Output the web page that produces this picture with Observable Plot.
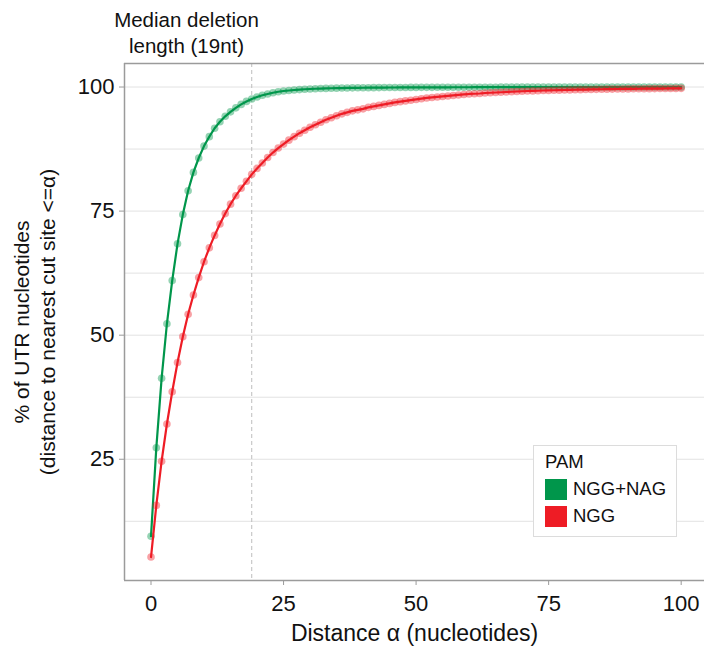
<!DOCTYPE html>
<html><head><meta charset="utf-8">
<script src="https://cdn.jsdelivr.net/npm/d3@7"></script>
<script src="https://cdn.jsdelivr.net/npm/@observablehq/plot@0.6"></script>
<style>
body{margin:0;background:#fff;font-family:"Liberation Sans",Arial,sans-serif;}
#wrap{position:relative;width:704px;height:648px;overflow:hidden;}
#legend{position:absolute;left:533px;top:445px;width:144px;height:92px;background:#fff;border:1px solid #dcdcdc;box-sizing:border-box;font-size:18.5px;color:#111;}
#legend .t{position:absolute;left:11px;top:5px;}
#legend .sw{position:absolute;left:11px;width:22px;height:21px;}
#legend .lb{position:absolute;left:39px;}
</style></head>
<body><div id="wrap"></div>
<script>
const series = ["NGG+NAG", "NGG"];
const colors = ["#00964B", "#EE1C25"];
const xTicks = [0, 25, 50, 75, 100];
const yTicks = [25, 50, 75, 100];
const yGrid = [12.5, 25, 37.5, 50, 62.5, 75, 87.5, 100];
const medianLen = 19;
const xDomain = [-5, 104.4];
const yDomain = [0.57, 104.74];

// % of UTR nucleotides within distance alpha (alpha = 0..100)
const nggNag = [
 9.5, 27.3, 41.3, 52.3, 61.0, 68.4, 74.3, 79.1, 82.8, 85.7,
 88.1, 90.0, 91.7, 93.0, 94.1, 95.0, 95.8, 96.5, 97.1, 97.6,
 98.0, 98.35, 98.6, 98.85, 99.05, 99.2, 99.3, 99.4, 99.48, 99.55,
 99.6, 99.65, 99.69, 99.72, 99.75, 99.77, 99.79, 99.81, 99.83, 99.84,
 99.85, 99.86, 99.87, 99.88, 99.89, 99.9, 99.9, 99.91, 99.91, 99.92,
 99.92, 99.93, 99.93, 99.93, 99.94, 99.94, 99.94, 99.95, 99.95, 99.95,
 99.95, 99.96, 99.96, 99.96, 99.96, 99.96, 99.97, 99.97, 99.97, 99.97,
 99.97, 99.97, 99.98, 99.98, 99.98, 99.98, 99.98, 99.98, 99.98, 99.98,
 99.99, 99.99, 99.99, 99.99, 99.99, 99.99, 99.99, 99.99, 99.99, 99.99,
 99.99, 100, 100, 100, 100, 100, 100, 100, 100, 100, 100
];
const ngg = [
 5.3, 15.7, 24.6, 32.1, 38.6, 44.5, 49.7, 54.2, 58.1, 61.6,
 64.8, 67.6, 70.1, 72.4, 74.5, 76.4, 78.1, 79.6, 81.0, 82.4,
 83.6, 84.7, 85.8, 86.8, 87.7, 88.5, 89.3, 90.0, 90.7, 91.3,
 91.9, 92.4, 92.9, 93.4, 93.8, 94.2, 94.6, 94.9, 95.2, 95.4,
 95.6, 95.9, 96.1, 96.3, 96.5, 96.7, 96.9, 97.05, 97.2, 97.35,
 97.5, 97.65, 97.8, 97.9, 98.0, 98.1, 98.2, 98.3, 98.4, 98.5,
 98.6, 98.65, 98.7, 98.8, 98.85, 98.9, 98.95, 99.0, 99.05, 99.1,
 99.15, 99.2, 99.22, 99.25, 99.3, 99.32, 99.35, 99.37, 99.4, 99.42,
 99.45, 99.47, 99.49, 99.51, 99.53, 99.55, 99.57, 99.58, 99.6, 99.61,
 99.62, 99.64, 99.65, 99.66, 99.67, 99.68, 99.69, 99.7, 99.71, 99.72, 99.73
];

const values = [nggNag, ngg];
const font = '"Liberation Sans", Arial, sans-serif';
const axisGrey = "#9b9b9b";

const marks = [
  Plot.ruleY(yGrid, {stroke: "#e2e2e2", strokeWidth: 1}),
  Plot.ruleX([medianLen], {stroke: "#bdbdbd", strokeWidth: 1, strokeDasharray: "4,3"})
];
series.forEach((s, k) => {
  const rows = values[k].map((v, i) => ({pam: s, dist: i, pct: v}));
  marks.push(Plot.dot(rows, {x: "dist", y: "pct", fill: "pam", r: 3.8, fillOpacity: 0.42, stroke: "none"}));
  marks.push(Plot.line(rows, {x: "dist", y: "pct", stroke: "pam", strokeWidth: 2.2}));
});
marks.push(
  Plot.ruleX([xDomain[0]], {stroke: axisGrey, strokeWidth: 1.5}),
  Plot.ruleY([yDomain[0], yDomain[1]], {stroke: axisGrey, strokeWidth: 1.5}),
  Plot.axisX({ticks: xTicks, tickSize: 5, tickPadding: 10, fontSize: 22, label: null, stroke: axisGrey, fill: "#111"}),
  Plot.axisY({ticks: yTicks, tickSize: 5, tickPadding: 5, fontSize: 22, label: null, stroke: axisGrey, fill: "#111"}),
  Plot.text(["Distance α (nucleotides)"], {frameAnchor: "bottom", dy: 53, fontSize: 23, fill: "#111", lineAnchor: "middle"}),
  Plot.text(["% of UTR nucleotides\n(distance to nearest cut site <=α)"], {frameAnchor: "left", dx: -91, rotate: -90, fontSize: 21, lineHeight: 1.25, fill: "#111", lineAnchor: "middle", textAnchor: "middle"}),
  Plot.text(["Median deletion\nlength (19nt)"], {frameAnchor: "top-left", dx: 62, dy: -32, fontSize: 20.5, lineHeight: 1.3, fill: "#111", lineAnchor: "middle", textAnchor: "middle"})
);

const chart = Plot.plot({
  width: 704, height: 648,
  marginLeft: 124, marginRight: 0, marginTop: 63, marginBottom: 68,
  style: {fontFamily: font, background: "#fff", overflow: "visible"},
  x: {domain: xDomain},
  y: {domain: yDomain},
  color: {domain: series, range: colors},
  marks
});
const wrap = document.getElementById("wrap");
wrap.appendChild(chart);

const leg = document.createElement("div");
leg.id = "legend";
let html = '<div class="t">PAM</div>';
series.forEach((s, k) => {
  const top = 33 + k * 27;
  html += `<div class="sw" style="top:${top}px;background:${colors[k]}"></div><div class="lb" style="top:${top - 1}px">${s}</div>`;
});
leg.innerHTML = html;
wrap.appendChild(leg);
</script></body></html>
